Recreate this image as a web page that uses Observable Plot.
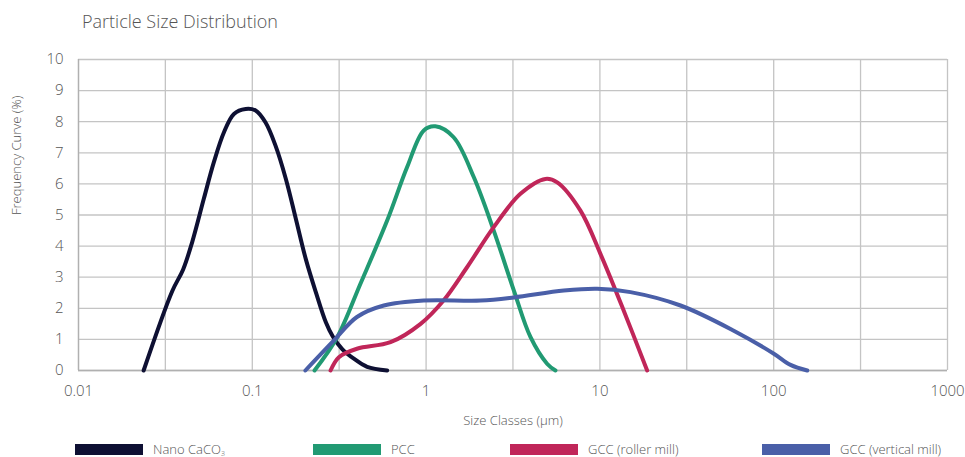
<!DOCTYPE html>
<html>
<head>
<meta charset="utf-8">
<script src="https://cdn.jsdelivr.net/npm/d3@7"></script>
<script src="https://cdn.jsdelivr.net/npm/@observablehq/plot@0.6"></script>
<style>
  body { margin: 0; background: #fff; font-family: "Open Sans", sans-serif; }
  #wrap { position: relative; width: 965px; height: 457px; }
  #title { position: absolute; left: 82px; top: 9px; font-size: 18px; font-weight: 300; color: #555; }
  #chart { position: absolute; left: 0; top: 40px; }
  #legend { position: absolute; left: 0; top: 442px; width: 965px; height: 14px; font-size: 13px; font-weight: 300; color: #555; }
  .item { position: absolute; top: 0; display: flex; align-items: center; height: 14px; }
  .sw { width: 68px; height: 11px; margin-right: 10px; }
  sub { font-size: 7px; vertical-align: -2px; }
</style>
</head>
<body>
<div id="wrap">
  <div id="title">Particle Size Distribution</div>
  <div id="chart"></div>
  <div id="legend"></div>
</div>
<script>
// Series names and colours
const seriesNames = ["Nano CaCO₃", "PCC", "GCC (roller mill)", "GCC (vertical mill)"];
const seriesColors = ["#0e1033", "#219a73", "#c02659", "#4a5fa8"];

// Nano CaCO3
const nanoSize = [0.0237, 0.0346, 0.040, 0.0451, 0.0526, 0.0601, 0.0687, 0.0784, 0.0916, 0.1045, 0.119, 0.136, 0.156, 0.178, 0.203, 0.232, 0.265, 0.29, 0.33, 0.384, 0.458, 0.597];
const nanoFreq = [0, 2.55, 3.25, 4.13, 5.52, 6.70, 7.66, 8.25, 8.41, 8.36, 7.98, 7.23, 6.16, 4.88, 3.59, 2.52, 1.55, 1.1, 0.68, 0.38, 0.12, 0];

// PCC
const pccSize = [0.228, 0.308, 0.419, 0.597, 0.778, 0.97, 1.13, 1.44, 1.88, 2.45, 3.2, 3.99, 4.98, 5.55];
const pccFreq = [0, 1.07, 2.79, 4.82, 6.54, 7.72, 7.85, 7.50, 6.22, 4.50, 2.57, 1.07, 0.21, 0];

// GCC (roller mill)
const rollerSize = [0.282, 0.315, 0.40, 0.624, 0.93, 1.26, 1.72, 2.45, 3.49, 4.86, 5.68, 7.73, 10.07, 13.7, 18.7];
const rollerFreq = [0, 0.43, 0.70, 0.91, 1.50, 2.25, 3.32, 4.61, 5.68, 6.16, 6.05, 5.14, 3.75, 1.93, 0];

// GCC (vertical mill)
const verticalSize = [0.202, 0.294, 0.40, 0.571, 0.97, 2.06, 3.2, 6.2, 9.64, 15.0, 29.1, 58.9, 100.2, 125, 156];
const verticalFreq = [0, 0.96, 1.72, 2.09, 2.25, 2.25, 2.35, 2.57, 2.63, 2.52, 2.09, 1.28, 0.54, 0.18, 0];

// Axis ticks
const xTicks = [0.01, 0.1, 1, 10, 100, 1000];
const xTickLabels = ["0.01", "0.1", "1", "10", "100", "1000"];
const xGrid = [0.01, 0.0316, 0.1, 0.316, 1, 3.16, 10, 31.6, 100, 316, 1000];
const yTicks = [0, 1, 2, 3, 4, 5, 6, 7, 8, 9, 10];

const sizes = [nanoSize, pccSize, rollerSize, verticalSize];
const freqs = [nanoFreq, pccFreq, rollerFreq, verticalFreq];
const rows = [];
seriesNames.forEach((name, i) => {
  sizes[i].forEach((s, j) => rows.push({series: name, size: s, freq: freqs[i][j]}));
});
const xLabelRows = xTicks.map((t, i) => ({t, label: xTickLabels[i]}));

const gridColor = "#c4c4c4";
const plot = Plot.plot({
  width: 965,
  height: 400,
  marginLeft: 78,
  marginRight: 18,
  marginTop: 19,
  marginBottom: 70,
  style: {fontFamily: "Open Sans, sans-serif", fontWeight: 300, color: "#555", background: "transparent", overflow: "visible"},
  x: {type: "log", domain: [0.01, 1000], axis: null},
  y: {domain: [0, 10], axis: null},
  color: {domain: seriesNames, range: seriesColors},
  marks: [
    Plot.gridX(xGrid, {stroke: gridColor, strokeOpacity: 1, strokeWidth: 1.3}),
    Plot.gridY(yTicks, {stroke: gridColor, strokeOpacity: 1, strokeWidth: 1.3}),
    Plot.ruleX([0.01], {stroke: "#b0b0b0", strokeWidth: 1.3}),
    Plot.ruleY([0], {stroke: "#b0b0b0", strokeWidth: 1.5}),
    Plot.text(xLabelRows, {x: "t", text: "label", frameAnchor: "bottom", dy: 25, fontSize: 15, fill: "#555"}),
    Plot.axisY(yTicks, {tickSize: 0, tickPadding: 15, fontSize: 15, label: null}),
    Plot.line(rows, {x: "size", y: "freq", z: "series", stroke: "series", strokeWidth: 4, curve: "catmull-rom"}),
    Plot.text(["Size Classes (µm)"], {frameAnchor: "bottom", dy: 54, text: d => d, fontSize: 13, fill: "#555"}),
    Plot.text(["Frequency Curve (%)"], {frameAnchor: "left", dx: -62, rotate: -90, text: d => d, fontSize: 13, fill: "#555"})
  ]
});
document.getElementById("chart").appendChild(plot);

// Legend
const legendX = [75, 313, 510, 762];
const legend = document.getElementById("legend");
seriesNames.forEach((name, i) => {
  const item = document.createElement("div");
  item.className = "item";
  item.style.left = legendX[i] + "px";
  const sw = document.createElement("div");
  sw.className = "sw";
  sw.style.background = seriesColors[i];
  const label = document.createElement("span");
  if (name.endsWith("₃")) {
    label.innerHTML = name.slice(0, -1) + "<sub>3</sub>";
  } else {
    label.textContent = name;
  }
  item.appendChild(sw);
  item.appendChild(label);
  legend.appendChild(item);
});
</script>
</body>
</html>
